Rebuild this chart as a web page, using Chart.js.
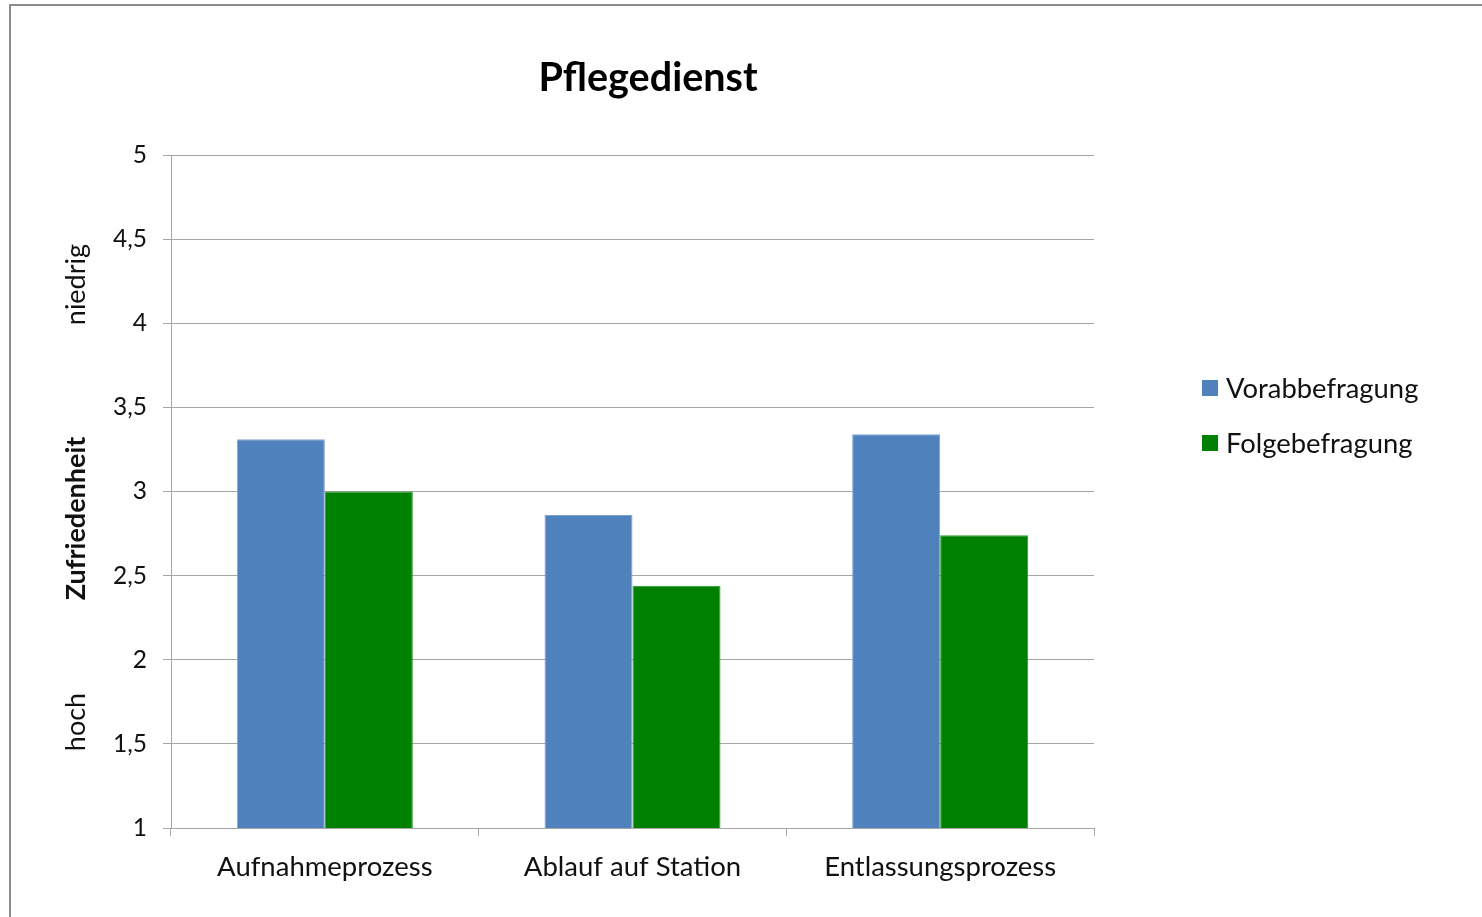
<!DOCTYPE html>
<html lang="de">
<head>
<meta charset="utf-8">
<title>Pflegedienst</title>
<script src="https://cdn.jsdelivr.net/npm/chart.js@4"></script>
<style>
  html, body { margin: 0; padding: 0; background: #fff; }
  body { width: 1482px; height: 917px; position: relative; overflow: hidden; font-family: Lato, "Noto Sans", sans-serif; }
  #frame { position: absolute; left: 9px; top: 4px; width: 1500px; height: 950px; border-left: 2px solid #8c8c8c; border-top: 2px solid #8c8c8c; }
  #wrap { position: absolute; left: 0; top: 0; width: 1482px; height: 917px; }
  #title { position: absolute; left: 0; width: 1296px; top: 52px; text-align: center; font-weight: 700; font-size: 39.5px; color: #000; }
  #legend { position: absolute; left: 1202px; top: 360px; }
  .item { display: flex; align-items: center; height: 55px; font-size: 27.4px; color: #111; }
  .swatch { width: 16px; height: 16px; margin-right: 8px; }
</style>
</head>
<body>
<div id="frame"></div>
<div id="wrap"><canvas id="chart" width="1482" height="917"></canvas></div>
<div id="title">Pflegedienst</div>
<div id="legend"></div>
<script>
const categories = ["Aufnahmeprozess", "Ablauf auf Station", "Entlassungsprozess"];
const seriesNames = ["Vorabbefragung", "Folgebefragung"];
const vorab = [3.31, 2.86, 3.34];
const folge = [3.0, 2.44, 2.74];
const yTicks = [1, 1.5, 2, 2.5, 3, 3.5, 4, 4.5, 5];
const colors = ["#4f81bd", "#008000"];
const borders = ["#7ea3d3", "#2a9a2a"];

// side captions of the value axis: text + value at which it is centred
const sideLabels = [
  { text: "niedrig", value: 4.23, bold: false },
  { text: "Zufriedenheit", value: 2.84, bold: true },
  { text: "hoch", value: 1.63, bold: false },
];

const sideLabelPlugin = {
  id: "sideLabels",
  afterDraw(chart) {
    const { ctx } = chart;
    const y = chart.scales.y;
    ctx.save();
    ctx.fillStyle = "#111";
    ctx.textAlign = "center";
    ctx.textBaseline = "middle";
    sideLabels.forEach((l) => {
      ctx.save();
      ctx.translate(76, y.getPixelForValue(l.value));
      ctx.rotate(-Math.PI / 2);
      ctx.font = (l.bold ? "700 " : "400 ") + "27px Lato, 'Noto Sans', sans-serif";
      ctx.fillText(l.text, 0, 0);
      ctx.restore();
    });
    ctx.restore();
  },
};

const legend = document.getElementById("legend");
seriesNames.forEach((name, i) => {
  const row = document.createElement("div");
  row.className = "item";
  row.innerHTML = `<span class="swatch" style="background:${colors[i]}"></span>${name}`;
  legend.appendChild(row);
});

const ctx = document.getElementById("chart").getContext("2d");
new Chart(ctx, {
  type: "bar",
  data: {
    labels: categories,
    datasets: [vorab, folge].map((values, i) => ({
      label: seriesNames[i],
      data: values,
      backgroundColor: colors[i],
      borderColor: borders[i],
      borderWidth: 1,
      categoryPercentage: 0.572,
      barPercentage: 1,
    })),
  },
  options: {
    responsive: false,
    animation: false,
    locale: "de-DE",
    layout: { padding: { left: 0, top: 155, right: 388, bottom: 0 } },
    plugins: {
      legend: { display: false },
      title: { display: false },
      tooltip: { enabled: false },
    },
    scales: {
      x: {
        grid: {
          offset: true,
          drawOnChartArea: false,
          tickLength: 8,
          color: "#a6a6a6",
        },
        border: { color: "#a6a6a6" },
        ticks: {
          color: "#111",
          padding: 15,
          font: { family: "Lato, 'Noto Sans', sans-serif", size: 27.5 },
        },
        afterFit(scale) {
          scale.height = 89;
        },
      },
      y: {
        min: 1,
        max: 5,
        afterBuildTicks(scale) {
          scale.ticks = yTicks.map((v) => ({ value: v }));
        },
        grid: { tickLength: 8, color: "#a6a6a6" },
        border: { color: "#a6a6a6" },
        ticks: {
          color: "#111",
          padding: 16,
          font: { family: "Lato, 'Noto Sans', sans-serif", size: 24.5 },
          callback: (v) => String(v).replace(".", ","),
        },
        afterFit(scale) {
          scale.width = 171;
        },
      },
    },
  },
  plugins: [sideLabelPlugin],
});
</script>
</body>
</html>
